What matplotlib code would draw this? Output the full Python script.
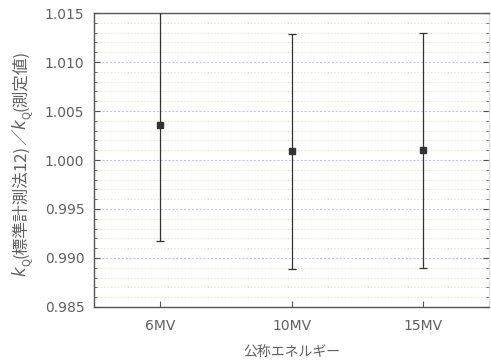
import matplotlib
matplotlib.use("Agg")
import matplotlib.pyplot as plt
from matplotlib.ticker import MultipleLocator
from matplotlib.transforms import IdentityTransform

plt.rcParams['font.family'] = ['DejaVu Sans', 'Noto Sans CJK JP']

categories = ['6MV', '10MV', '15MV']
ratio = [1.0036, 1.0009, 1.0010]
err = [0.0119, 0.0120, 0.0120]
yticks = [0.985, 0.990, 0.995, 1.000, 1.005, 1.010, 1.015]

fig = plt.figure(figsize=(4.91, 3.62), dpi=100)
ax = fig.add_axes([0.1914, 0.152, 0.805, 0.812])

x = list(range(1, len(categories) + 1))
ax.errorbar(x, ratio, yerr=err, fmt='s', color='#333333', ecolor='#333333',
            markersize=5, elinewidth=0.9, capsize=3, capthick=0.9, zorder=3)

ax.set_xlim(0.5, 3.5)
ax.set_ylim(0.985, 1.015)
ax.set_xticks(x)
ax.set_xticklabels(categories)
ax.set_yticks(yticks)
ax.set_yticklabels([f"{v:.3f}" for v in yticks])
ax.yaxis.set_minor_locator(MultipleLocator(0.001))

ax.grid(which='major', axis='y', color='#c0cae0', linestyle=(0, (2, 1.5)), linewidth=0.8)
ax.grid(which='minor', axis='y', color='#e0e0b4', linestyle=(0, (1, 2)), linewidth=0.8)
ax.set_axisbelow(True)

tc = '#606060'
ax.tick_params(axis='both', which='both', direction='in', colors='#555555', labelcolor=tc,
               labelsize=10)
ax.tick_params(axis='y', which='major', length=4, left=True, right=True, pad=7)
ax.tick_params(axis='y', which='minor', length=2.5, left=True, right=True)
ax.tick_params(axis='x', which='major', length=4, pad=9)

for s in ['left', 'bottom', 'top']:
    ax.spines[s].set_color('#555555')
    ax.spines[s].set_linewidth(1.0)
ax.spines['right'].set_color('#dddddd')
ax.spines['right'].set_linewidth(0.8)

ax.set_xlabel('公称エネルギー', family=['Noto Sans CJK JP'], fontsize=10, color=tc, labelpad=8)

# y label built from pieces (italic k with subscript Q, CJK text)
fs = 12.0
pieces = [
    ('k', 'italic', fs, 0.0),
    ('Q', 'normal', fs * 0.65, 0.28),
    ('(標準計測法12)', 'normal', fs, 0.0),
    ('／', 'normal', fs, 0.0),
    ('k', 'italic', fs, 0.0),
    ('Q', 'normal', fs * 0.65, 0.28),
    ('(測定値)', 'normal', fs, 0.0),
]
renderer = fig.canvas.get_renderer()
H = fig.bbox.height
xb = 25.0
texts = []
total = 0.0
for s, style, size, sub in pieces:
    fam = ['DejaVu Sans'] if style == 'italic' else ['Noto Sans CJK JP', 'DejaVu Sans']
    t = fig.text(0, 0, s, rotation=90, rotation_mode='anchor', ha='left', va='baseline',
                 fontsize=size, style=style, family=fam, color=tc, transform=IdentityTransform())
    ext = t.get_window_extent(renderer)
    texts.append((t, ext.height, sub))
    total += ext.height
center = H - 163.0
y = center - total / 2
for t, h, sub in texts:
    t.set_position((xb + sub * fs * 100 / 72, y))
    y += h

fig.savefig('out.png', dpi=100)
